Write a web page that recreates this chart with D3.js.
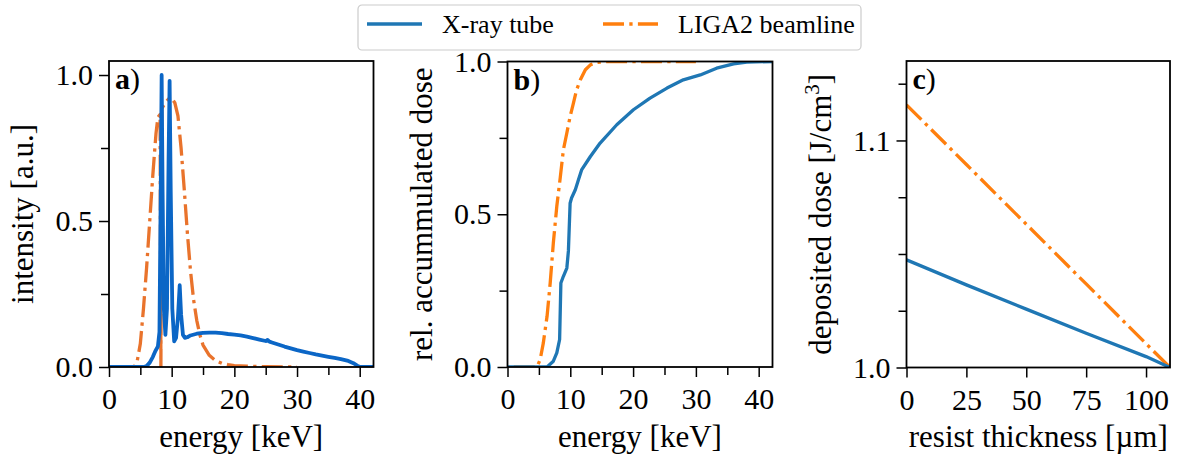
<!DOCTYPE html>
<html>
<head>
<meta charset="utf-8">
<script src="https://cdn.jsdelivr.net/npm/d3@7"></script>
<style>
  body { margin: 0; background: #fff; }
  svg { display: block; }
  svg text { font-family: 'Liberation Serif', 'Times New Roman', Times, 'DejaVu Serif', serif; }
</style>
</head>
<body>
<script>
// a) spectra
const tubeEnergy = [0, 5.5, 6.0, 6.5, 7.0, 7.4, 7.8, 8.05, 8.25, 8.4, 8.55, 8.75, 9.0, 9.25, 9.5, 9.67, 9.85, 10.1, 10.4,
  10.7, 11.0, 11.28, 11.5, 11.8, 12.1, 12.5, 13, 14, 15, 16, 17, 18, 19, 20, 21, 22, 23, 24, 25, 25.3, 25.6, 26,
  27, 28, 29, 30, 31, 32, 33, 34, 35, 36, 37, 38, 39, 39.6, 40, 42.2];
const tubeIntensity = [0, 0, 0.003, 0.015, 0.035, 0.055, 0.07, 0.12, 0.6, 1.0, 0.6, 0.2, 0.11, 0.2, 0.7, 0.98, 0.6, 0.2, 0.088,
  0.1, 0.17, 0.28, 0.18, 0.11, 0.1, 0.102, 0.108, 0.114, 0.117, 0.118, 0.118, 0.116, 0.113, 0.111, 0.108, 0.104, 0.099,
  0.094, 0.089, 0.093, 0.087, 0.084, 0.077, 0.07, 0.064, 0.058, 0.053, 0.048, 0.043, 0.039, 0.035, 0.031, 0.027, 0.022,
  0.013, 0.005, 0, 0];
const beamEnergy = [1, 4.0, 4.5, 5.0, 5.5, 6.0, 6.5, 7.0, 7.5, 7.8, 8.15, 8.28, 8.42, 9.0, 9.5, 10.0, 10.5, 11.0, 11.5,
  12.0, 12.5, 13.0, 13.5, 14.0, 14.5, 15.0, 16, 17, 18, 19, 20, 22, 25, 30];
const beamIntensity = [0, 0, 0.02, 0.08, 0.2, 0.34, 0.5, 0.66, 0.8, 0.855, 0.865, 0, 0.885, 0.905, 0.918, 0.92, 0.905, 0.86,
  0.75, 0.61, 0.46, 0.33, 0.23, 0.16, 0.11, 0.075, 0.04, 0.022, 0.013, 0.008, 0.005, 0.003, 0.001, 0];

// b) accumulated dose
const tubeDoseEnergy = [0, 6.3, 7.3, 7.85, 8.3, 8.5, 8.9, 9.45, 9.7, 9.97, 10.2, 10.8, 11.3, 11.8, 13.2, 14.75, 17.4,
  20.05, 22.7, 25.4, 28, 30.7, 33.3, 36, 38.1, 42.2];
const tubeDose = [0, 0, 0.019, 0.046, 0.09, 0.275, 0.297, 0.324, 0.38, 0.536, 0.553, 0.58, 0.613, 0.645, 0.689, 0.733,
  0.793, 0.842, 0.88, 0.913, 0.94, 0.956, 0.978, 0.992, 0.998, 1.0];
const beamDoseEnergy = [1, 4.7, 5.2, 5.7, 6.3, 6.8, 7.3, 7.85, 8.4, 8.9, 9.45, 9.97, 10.5, 11.0, 11.6, 12.4, 13.2, 14.2,
  15.8, 30];
const beamDose = [0, 0, 0.024, 0.078, 0.166, 0.275, 0.406, 0.526, 0.62, 0.711, 0.766, 0.82, 0.864, 0.907, 0.94, 0.973,
  0.989, 0.997, 1.0, 1.0];

// c) deposited dose
const thickness = [0, 25, 50, 75, 100, 110];
const tubeDeposited = [1.0474, 1.0364, 1.0257, 1.0151, 1.0048, 1.0];
const beamDeposited = [1.1157, 1.0894, 1.0631, 1.0368, 1.0105, 1.0];

const seriesNames = ['X-ray tube', 'LIGA2 beamline'];

const width = 1179;
const height = 458;
const blue = '#1f77b4';
const orange = '#ff7f0e';
const dashDot = '21,5.3,3.3,5.3';

const panels = [
  {
    id: 'a', left: 109, right: 373.5, top: 61, bottom: 367,
    xDomain: [0, 42.2], yDomain: [0, 1.048],
    xTicks: [0, 10, 20, 30, 40], xMinor: [5, 15, 25, 35],
    yTicks: [0, 0.5, 1.0], yMinor: [0.25, 0.75], yFormat: d3.format('.1f'),
    ylabel: 'intensity [a.u.]', xlabel: 'energy [keV]',
    colors: ['#0b66c6', '#e9732c'], widths: [3.8, 3.3],
    series: [[tubeEnergy, tubeIntensity], [beamEnergy, beamIntensity]]
  },
  {
    id: 'b', left: 507.5, right: 772.5, top: 61.5, bottom: 367,
    xDomain: [0, 42.2], yDomain: [0, 1.0],
    xTicks: [0, 10, 20, 30, 40], xMinor: [5, 15, 25, 35],
    yTicks: [0, 0.5, 1.0], yMinor: [0.25, 0.75], yFormat: d3.format('.1f'),
    ylabel: 'rel. accummulated dose', xlabel: 'energy [keV]',
    colors: [blue, orange], widths: [3.3, 3.3],
    series: [[tubeDoseEnergy, tubeDose], [beamDoseEnergy, beamDose]]
  },
  {
    id: 'c', left: 906.5, right: 1170, top: 61, bottom: 367.5,
    xDomain: [0, 110], yDomain: [1.0, 1.135],
    xTicks: [0, 25, 50, 75, 100], xMinor: [],
    yTicks: [1.0, 1.1], yMinor: [1.025, 1.05, 1.075, 1.125], yFormat: d3.format('.1f'),
    ylabel: 'deposited dose [J/cm³]', xlabel: 'resist thickness [µm]',
    colors: [blue, orange], widths: [3.3, 3.3],
    series: [[thickness, tubeDeposited], [thickness, beamDeposited]]
  }
];

const svg = d3.create('svg')
  .attr('width', width)
  .attr('height', height);

svg.append('rect').attr('width', width).attr('height', height).attr('fill', '#fff');

const defs = svg.append('defs');

panels.forEach(p => {
  const x = d3.scaleLinear().domain(p.xDomain).range([p.left, p.right]);
  const y = d3.scaleLinear().domain(p.yDomain).range([p.bottom, p.top]);
  const g = svg.append('g');

  defs.append('clipPath').attr('id', 'clip-' + p.id)
    .append('rect')
    .attr('x', p.left).attr('y', p.top)
    .attr('width', p.right - p.left).attr('height', p.bottom - p.top);

  const line = d3.line().x(d => x(d[0])).y(d => y(d[1]));

  // draw orange first so blue sits on top
  [1, 0].forEach(i => {
    const [xs, ys] = p.series[i];
    g.append('path')
      .attr('clip-path', `url(#clip-${p.id})`)
      .attr('d', line(d3.zip(xs, ys)))
      .attr('fill', 'none')
      .attr('stroke', p.colors[i])
      .attr('stroke-width', p.widths[i])
      .attr('stroke-linejoin', 'round')
      .attr('stroke-dasharray', i === 1 ? dashDot : null);
  });

  // minor ticks
  g.append('g')
    .attr('transform', `translate(0,${p.bottom})`)
    .call(d3.axisBottom(x).tickValues(p.xMinor).tickSize(8).tickFormat(''))
    .call(s => s.select('.domain').remove());
  g.append('g')
    .attr('transform', `translate(${p.left},0)`)
    .call(d3.axisLeft(y).tickValues(p.yMinor).tickSize(8).tickFormat(''))
    .call(s => s.select('.domain').remove());

  // major ticks
  const xAxis = g.append('g')
    .attr('transform', `translate(0,${p.bottom})`)
    .call(d3.axisBottom(x).tickValues(p.xTicks).tickSize(10).tickPadding(11).tickFormat(d3.format('d')));
  const yAxis = g.append('g')
    .attr('transform', `translate(${p.left},0)`)
    .call(d3.axisLeft(y).tickValues(p.yTicks).tickSize(10).tickPadding(6).tickFormat(p.yFormat));

  [xAxis, yAxis].forEach(a => {
    a.select('.domain').remove();
    a.selectAll('text').attr('font-size', 30).attr('fill', '#000');
  });
  g.selectAll('.tick line').attr('stroke', '#000').attr('stroke-width', 1.5);

  // frame
  g.append('rect')
    .attr('x', p.left).attr('y', p.top)
    .attr('width', p.right - p.left).attr('height', p.bottom - p.top)
    .attr('fill', 'none').attr('stroke', '#000').attr('stroke-width', 1.8);

  // panel label
  const lab = g.append('text')
    .attr('x', p.left + 6).attr('y', p.top + 28)
    .attr('font-size', 30);
  lab.append('tspan').attr('font-weight', 'bold').text(p.id);
  lab.append('tspan').text(')');

  // axis labels
  g.append('text')
    .attr('x', (p.left + p.right) / 2).attr('y', 447)
    .attr('text-anchor', 'middle').attr('font-size', 31)
    .text(p.xlabel);

  const yl = g.append('text')
    .attr('transform', `translate(${p.left - 76},${(p.top + p.bottom) / 2}) rotate(-90)`)
    .attr('text-anchor', 'middle').attr('font-size', 31);
  if (p.id === 'c') {
    yl.append('tspan').text('deposited dose [J/cm');
    yl.append('tspan').attr('font-size', 21).attr('dy', -12).text('3');
    yl.append('tspan').attr('dy', 12).text(']');
  } else {
    yl.text(p.ylabel);
  }
});

// legend
const legend = svg.append('g');
legend.append('rect')
  .attr('x', 358).attr('y', 5).attr('width', 503).attr('height', 45)
  .attr('rx', 4).attr('fill', '#fff').attr('stroke', '#cccccc').attr('stroke-width', 1.2);

const legendItems = [
  {name: seriesNames[0], x: 367, color: blue, dash: null},
  {name: seriesNames[1], x: 603, color: orange, dash: dashDot}
];
legendItems.forEach(it => {
  legend.append('line')
    .attr('x1', it.x).attr('x2', it.x + 55).attr('y1', 24).attr('y2', 24)
    .attr('stroke', it.color).attr('stroke-width', 3.3)
    .attr('stroke-dasharray', it.dash);
  legend.append('text')
    .attr('x', it.x + 75).attr('y', 33)
    .attr('font-size', 26)
    .text(it.name);
});

document.querySelector('body').appendChild(svg.node());
</script>
</body>
</html>
